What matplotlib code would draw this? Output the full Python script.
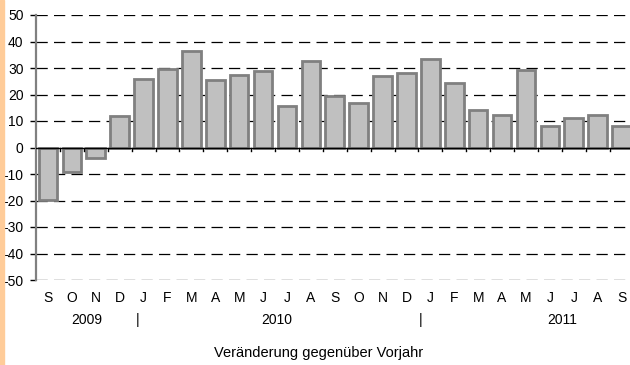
import matplotlib
matplotlib.use("Agg")
import matplotlib.pyplot as plt
from matplotlib.patches import Rectangle

months = ["S", "O", "N", "D", "J", "F", "M", "A", "M", "J", "J", "A",
          "S", "O", "N", "D", "J", "F", "M", "A", "M", "J", "J", "A", "S"]
values = [-19.7, -9.1, -4.1, 11.7, 26.0, 29.8, 36.6, 25.4, 27.2, 29.0, 15.5, 32.5,
          19.5, 16.7, 26.9, 28.3, 33.4, 24.5, 14.3, 12.2, 29.4, 8.3, 11.1, 12.2, 8.3]
years = ["2009", "2010", "2011"]
year_pos = [1.63, 9.57, 21.5]
sep_pos = [3.77, 15.57]
yticks = [-50, -40, -30, -20, -10, 0, 10, 20, 30, 40, 50]
caption = "Veränderung gegenüber Vorjahr"

plt.rcParams['font.family'] = ['Liberation Sans', 'DejaVu Sans']
W, H = 630, 365
fig = plt.figure(figsize=(W / 100, H / 100), dpi=100)
fig.patches.append(Rectangle((0, 0), 4 / W, 1, transform=fig.transFigure,
                             color="#FFCC99", zorder=0))

left = 36 / W
right_px = 633.5
ax = fig.add_axes([left, (H - 280) / H, (right_px - 36) / W, 265 / H])
x = list(range(len(values)))
ax.set_xlim(-0.5, len(values) - 0.5)
ax.set_ylim(-50, 50)

for yv in yticks:
    if yv != 0:
        ax.axhline(yv, color="black", lw=0.9, dashes=(9, 5), zorder=1)
ax.bar(x, values, width=0.78, color="#C0C0C0", edgecolor="#808080", linewidth=2.0, zorder=3)
ax.axhline(0, color="black", lw=1.0, zorder=4)

for s in ["top", "right", "bottom"]:
    ax.spines[s].set_visible(False)
ax.spines["left"].set_color("#808080")
ax.spines["left"].set_linewidth(1.6)

ax.set_yticks(yticks)
ax.set_yticklabels([str(v) for v in yticks], fontsize=10)
ax.tick_params(axis="y", length=4, width=1, color="black", pad=5)
ax.set_xticks([])

# category boundary ticks on the zero line
for b in range(1, len(values)):
    ax.plot([b - 0.5, b - 0.5], [0, -1.3], color="black", lw=1.0, zorder=5, clip_on=False)

trans = ax.get_xaxis_transform()
for i, m in enumerate(months):
    ax.text(i, -0.068, m, transform=trans, ha="center", va="center", fontsize=10)
for p, yr in zip(year_pos, years):
    ax.text(p, -0.151, yr, transform=trans, ha="center", va="center", fontsize=10)
for p in sep_pos:
    ax.text(p, -0.151, "|", transform=trans, ha="center", va="center", fontsize=10)

fig.text(319 / W, (H - 353) / H, caption, ha="center", va="center", fontsize=10.5)

fig.savefig("out.png", dpi=100)
